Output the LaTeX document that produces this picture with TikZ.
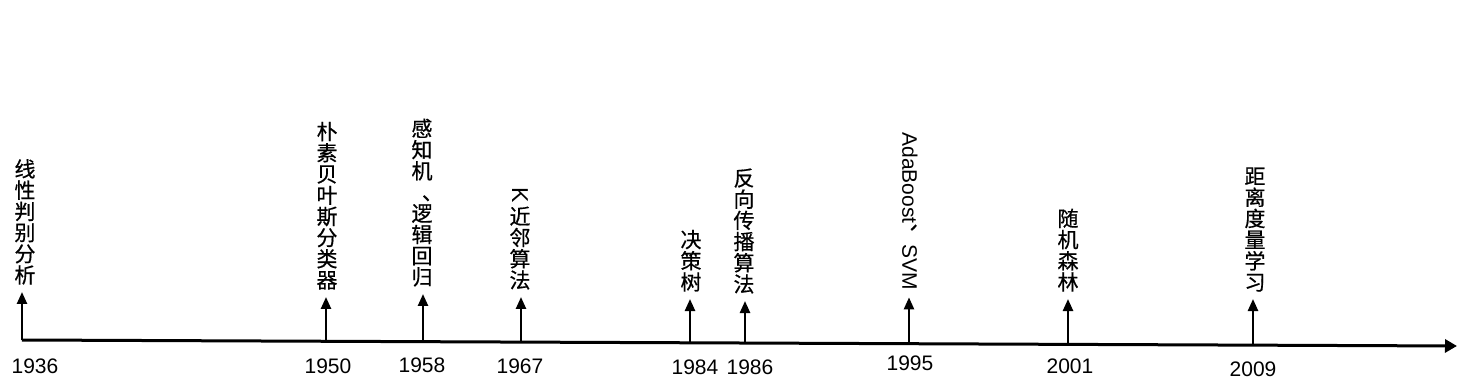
\documentclass[tikz,border=0pt]{standalone}
\usepackage{fontspec}
\setmainfont{Liberation Sans}
\newfontfamily\cjk[FakeBold=0.6]{Noto Sans CJK SC}
\usetikzlibrary{arrows.meta}
\tikzset{
  hito/.style={anchor=south,inner sep=0pt,align=center,font=\cjk\fontsize{10.5}{10.6}\selectfont},
  anio/.style={inner sep=0pt,font=\fontsize{10.5}{12}\selectfont},
  flecha/.style={-{Triangle[length=6pt,width=5pt]},line width=1.2pt,shorten >=3.5pt},
}
\begin{document}
\begin{tikzpicture}[x=0.5pt,y=-0.5pt]
\useasboundingbox (0,0) rectangle (1464,390);
% eje del tiempo
\coordinate (b1936) at (22,340);
\coordinate (b1950) at (326,341.3);
\coordinate (b1958) at (423,341.7);
\coordinate (b1967) at (521,342.1);
\coordinate (b1984) at (690,342.8);
\coordinate (b1986) at (745,343);
\coordinate (b1995) at (909,343.7);
\coordinate (b2001) at (1068,344.4);
\coordinate (b2009) at (1253,345.2);
\coordinate (fin) at (1457,346);
\draw[-{Triangle[length=6pt,width=6.5pt]},line width=1.5pt] (b1936) -- (fin);
% hitos
\node[hito] (node1936) at (25,285) {线\\性\\判\\别\\分\\析};
\node[hito] (node1950) at (327,290) {朴\\素\\贝\\叶\\斯\\分\\类\\器};
\node[hito] (node1958) at (422,287) {感\\知\\机\\\makebox[1em][l]{\hspace{0.5em}、}\\逻\\辑\\回\\归};
\node[hito] (node1967) at (520,290) {\rotatebox{-90}{\rmfamily\fontsize{11.5}{12}\selectfont K}\\[1pt]近\\邻\\算\\法};
\node[hito] (node1984) at (691,292) {决\\策\\树};
\node[hito] (node1986) at (744,294) {反\\向\\传\\播\\算\\法};
\node[hito,rotate=-90,anchor=west] (node1995) at (910,132) {\rmfamily AdaBoost\raisebox{0.45em}{\cjk 、}SVM};
\node[hito] (node2001) at (1068,292) {随\\机\\森\\林};
\node[hito] (node2009) at (1255,292) {距\\离\\度\\量\\学\\习};
\draw[flecha] (b1936) -- (b1936 |- node1936.south);
\draw[flecha] (b1950) -- (b1950 |- node1950.south);
\draw[flecha] (b1958) -- (b1958 |- node1958.south);
\draw[flecha] (b1967) -- (b1967 |- node1967.south);
\draw[flecha] (b1984) -- (b1984 |- node1984.south);
\draw[flecha] (b1986) -- (b1986 |- node1986.south);
\draw[flecha] (b1995) -- (b1995 |- node1995.east);
\draw[flecha] (b2001) -- (b2001 |- node2001.south);
\draw[flecha] (b2009) -- (b2009 |- node2009.south);
% años
\node[anio] (y1936) at (35,366) {1936};
\node[anio] (y1950) at (328,366) {1950};
\node[anio] (y1958) at (422,365) {1958};
\node[anio] (y1967) at (520,366) {1967};
\node[anio] (y1984) at (695,367) {1984};
\node[anio] (y1986) at (750,367) {1986};
\node[anio] (y1995) at (910,363) {1995};
\node[anio] (y2001) at (1070,366) {2001};
\node[anio] (y2009) at (1253,369) {2009};
\end{tikzpicture}
\end{document}
